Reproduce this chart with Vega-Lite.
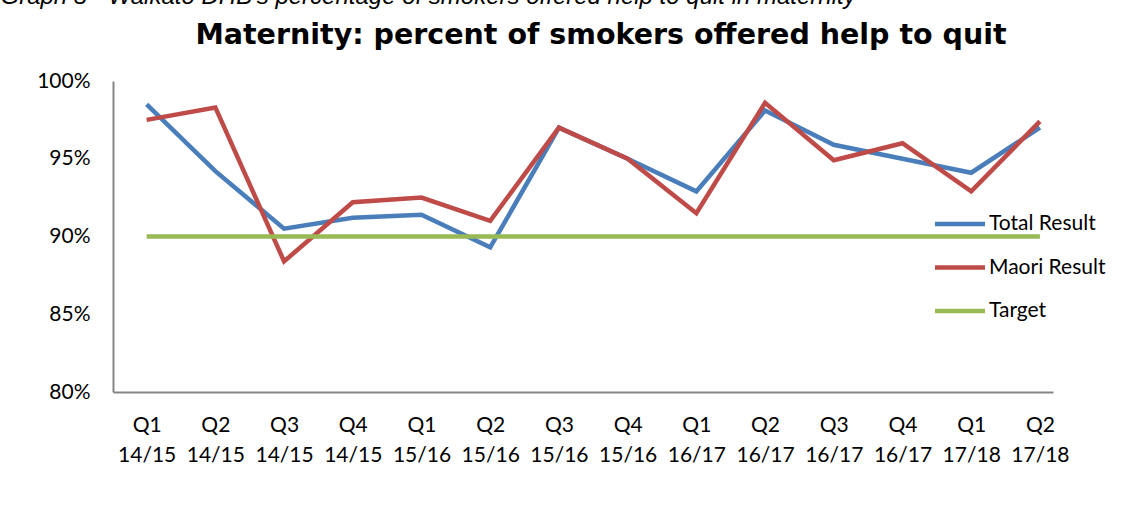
{
  "$schema": "https://vega.github.io/schema/vega-lite/v6.json",
  "width": 940,
  "height": 311,
  "autosize": {"type": "none"},
  "padding": {"left": 113, "top": 81, "right": 74, "bottom": 123},
  "background": "white",
  "title": {
    "text": "Maternity: percent of smokers offered help to quit",
    "font": "DejaVu Sans",
    "fontSize": 28.5,
    "fontWeight": "bold",
    "color": "#000000",
    "anchor": "middle",
    "frame": "group",
    "dx": 18,
    "baseline": "alphabetic",
    "offset": -88
  },
  "data": {
    "values": [
      {"quarter": "Q1 14/15", "series": "Total Result", "value": 0.985},
      {"quarter": "Q2 14/15", "series": "Total Result", "value": 0.942},
      {"quarter": "Q3 14/15", "series": "Total Result", "value": 0.905},
      {"quarter": "Q4 14/15", "series": "Total Result", "value": 0.912},
      {"quarter": "Q1 15/16", "series": "Total Result", "value": 0.914},
      {"quarter": "Q2 15/16", "series": "Total Result", "value": 0.893},
      {"quarter": "Q3 15/16", "series": "Total Result", "value": 0.970},
      {"quarter": "Q4 15/16", "series": "Total Result", "value": 0.950},
      {"quarter": "Q1 16/17", "series": "Total Result", "value": 0.929},
      {"quarter": "Q2 16/17", "series": "Total Result", "value": 0.981},
      {"quarter": "Q3 16/17", "series": "Total Result", "value": 0.959},
      {"quarter": "Q4 16/17", "series": "Total Result", "value": 0.950},
      {"quarter": "Q1 17/18", "series": "Total Result", "value": 0.941},
      {"quarter": "Q2 17/18", "series": "Total Result", "value": 0.970},
      {"quarter": "Q1 14/15", "series": "Maori Result", "value": 0.975},
      {"quarter": "Q2 14/15", "series": "Maori Result", "value": 0.983},
      {"quarter": "Q3 14/15", "series": "Maori Result", "value": 0.884},
      {"quarter": "Q4 14/15", "series": "Maori Result", "value": 0.922},
      {"quarter": "Q1 15/16", "series": "Maori Result", "value": 0.925},
      {"quarter": "Q2 15/16", "series": "Maori Result", "value": 0.910},
      {"quarter": "Q3 15/16", "series": "Maori Result", "value": 0.970},
      {"quarter": "Q4 15/16", "series": "Maori Result", "value": 0.950},
      {"quarter": "Q1 16/17", "series": "Maori Result", "value": 0.915},
      {"quarter": "Q2 16/17", "series": "Maori Result", "value": 0.986},
      {"quarter": "Q3 16/17", "series": "Maori Result", "value": 0.949},
      {"quarter": "Q4 16/17", "series": "Maori Result", "value": 0.960},
      {"quarter": "Q1 17/18", "series": "Maori Result", "value": 0.929},
      {"quarter": "Q2 17/18", "series": "Maori Result", "value": 0.974},
      {"quarter": "Q1 14/15", "series": "Target", "value": 0.9},
      {"quarter": "Q2 14/15", "series": "Target", "value": 0.9},
      {"quarter": "Q3 14/15", "series": "Target", "value": 0.9},
      {"quarter": "Q4 14/15", "series": "Target", "value": 0.9},
      {"quarter": "Q1 15/16", "series": "Target", "value": 0.9},
      {"quarter": "Q2 15/16", "series": "Target", "value": 0.9},
      {"quarter": "Q3 15/16", "series": "Target", "value": 0.9},
      {"quarter": "Q4 15/16", "series": "Target", "value": 0.9},
      {"quarter": "Q1 16/17", "series": "Target", "value": 0.9},
      {"quarter": "Q2 16/17", "series": "Target", "value": 0.9},
      {"quarter": "Q3 16/17", "series": "Target", "value": 0.9},
      {"quarter": "Q4 16/17", "series": "Target", "value": 0.9},
      {"quarter": "Q1 17/18", "series": "Target", "value": 0.9},
      {"quarter": "Q2 17/18", "series": "Target", "value": 0.9}
    ]
  },
  "mark": {"type": "line", "strokeWidth": 4.5},
  "encoding": {
    "x": {
      "field": "quarter",
      "type": "ordinal",
      "sort": null,
      "scale": {"type": "point", "padding": 0.34, "align": 0.72},
      "axis": {
        "title": null,
        "labelExpr": "split(datum.value, ' ')",
        "labelAngle": 0,
        "labelFont": "Lato",
        "labelFontSize": 21,
        "labelColor": "#000000",
        "labelLineHeight": 30,
        "labelPadding": 22,
        "labelBaseline": "top",
        "ticks": false,
        "tickSize": 0,
        "domainColor": "#868686",
        "domainWidth": 2,
        "grid": false
      }
    },
    "y": {
      "field": "value",
      "type": "quantitative",
      "scale": {"domain": [0.8, 1], "nice": false, "zero": false},
      "axis": {
        "values": [0.8, 0.85, 0.9, 0.95, 1],
        "format": ".0%",
        "labelFont": "Lato",
        "labelFontSize": 21,
        "labelColor": "#000000",
        "labelPadding": 23,
        "ticks": false,
        "tickSize": 0,
        "domainColor": "#868686",
        "domainWidth": 2,
        "grid": false,
        "title": "Graph 5 - Waikato DHB's percentage of smokers offered help to quit in maternity",
        "titleX": -113,
        "titleY": -77.5,
        "titleAngle": 0,
        "titleAlign": "left",
        "titleBaseline": "alphabetic",
        "titleFont": "Liberation Sans",
        "titleFontStyle": "italic",
        "titleFontWeight": "normal",
        "titleFontSize": 24,
        "titleColor": "#000000"
      }
    },
    "color": {
      "field": "series",
      "type": "nominal",
      "scale": {
        "domain": ["Total Result", "Maori Result", "Target"],
        "range": ["#4A7EBB", "#BE4B48", "#98B954"]
      },
      "legend": {
        "title": null,
        "orient": "none",
        "legendX": 823,
        "legendY": 119,
        "padding": 0,
        "symbolType": "M-1.15,0L1.15,0",
        "symbolSize": 1892,
        "symbolStrokeWidth": 4.5,
        "labelFont": "Lato",
        "labelFontSize": 21,
        "labelColor": "#000000",
        "labelOffset": 5,
        "rowPadding": 9.5
      }
    }
  },
  "config": {
    "view": {"stroke": null}
  }
}
